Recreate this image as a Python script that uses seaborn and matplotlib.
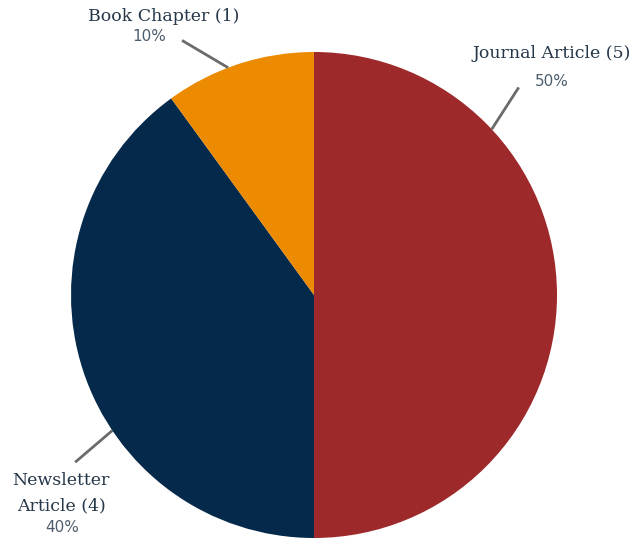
import numpy as np
import seaborn as sns
import matplotlib.pyplot as plt

# data
categories = ['Journal Article', 'Newsletter Article', 'Book Chapter']
counts = [5, 4, 1]
colors = ['#9e292b', '#05294a', '#ec8a00']

sns.set_theme(style='white')
plt.rcParams['font.family'] = ['DejaVu Sans']

total = sum(counts)
pcts = [c / total * 100 for c in counts]

fig = plt.figure(figsize=(6.34, 5.4), dpi=100)
# pie centre at (314, 295) px, radius 243 px
ax = fig.add_axes([(314 - 243) / 634, (540 - 295 - 243) / 540, 486 / 634, 486 / 540])
ax.pie(counts, colors=colors, startangle=90, counterclock=False, radius=1,
       wedgeprops=dict(linewidth=0))
ax.set_xlim(-1, 1)
ax.set_ylim(-1, 1)
ax.set_aspect('equal')
ax.axis('off')

label_col = '#253749'
pct_col = '#4d5d6d'

# leader lines: (inner angle, outer angle, outer radius)
leaders = [(43, 45.4, 1.2), (213.9, 215, 1.2), (110.7, 117.4, 1.18)]
# label text positions in data units
name_pos = [(0.98, 0.995), (-1.04, -0.815), (-0.62, 1.148)]
pct_pos = [(0.98, 0.88), (-1.037, -0.955), (-0.679, 1.062)]
names = ['Journal Article (5)', 'Newsletter\nArticle (4)', 'Book Chapter (1)']

for i in range(len(categories)):
    a1, a2, r2 = leaders[i]
    x1, y1 = np.cos(np.radians(a1)), np.sin(np.radians(a1))
    x2, y2 = r2 * np.cos(np.radians(a2)), r2 * np.sin(np.radians(a2))
    ax.plot([x1, x2], [y1, y2], color='#6b6b6b', lw=2.0, clip_on=False,
            solid_capstyle='butt')
    ax.text(name_pos[i][0], name_pos[i][1], names[i], ha='center', va='center',
            fontsize=12.5, family='DejaVu Serif', color=label_col,
            linespacing=1.6, clip_on=False)
    ax.text(pct_pos[i][0], pct_pos[i][1], f'{pcts[i]:.0f}%', ha='center',
            va='center', fontsize=11, color=pct_col, clip_on=False)

fig.savefig('out.png', dpi=100)
